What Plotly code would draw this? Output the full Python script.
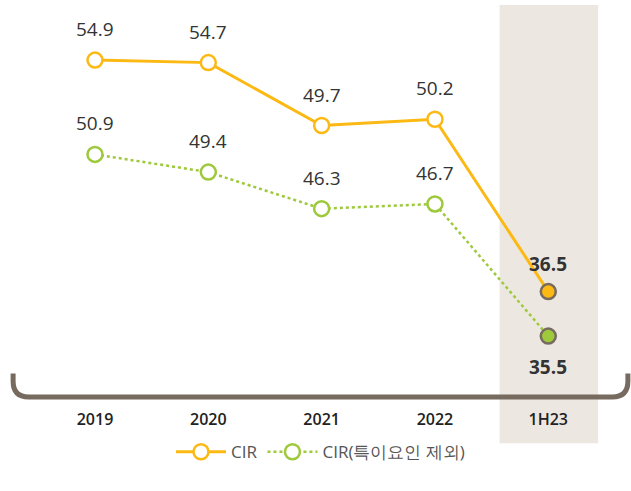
import plotly.graph_objects as go

# 데이터
periods = ["2019", "2020", "2021", "2022", "1H23"]
cir = [54.9, 54.7, 49.7, 50.2, 36.5]
cir_ex = [50.9, 49.4, 46.3, 46.7, 35.5]

ORANGE = "#FDB913"
GREEN = "#9DC93B"
BROWN = "#776B60"
TEXT = "#333333"
FONT = "Open Sans"

fig = go.Figure()

# 1H23 음영
fig.add_shape(type="rect", xref="x", yref="paper", x0=3.57, x1=4.44, y0=-0.118, y1=1,
              fillcolor="#ECE8E1", line_width=0, layer="below")

# 하단 브래킷
fig.add_shape(type="path", xref="paper", yref="paper",
              path="M 0.005,0.06 L 0.005,0.04 Q 0.005,0 0.03,0 L 0.97,0 Q 0.995,0 0.995,0.04 L 0.995,0.06",
              line=dict(color=BROWN, width=5))

def marker(color):
    fills = ["white"] * (len(periods) - 1) + [color]
    lines = [color] * (len(periods) - 1) + [BROWN]
    return dict(size=15, color=fills, line=dict(color=lines, width=2.5))

fig.add_trace(go.Scatter(x=periods, y=cir, name="CIR", mode="lines+markers",
                         line=dict(color=ORANGE, width=3), marker=marker(ORANGE)))
fig.add_trace(go.Scatter(x=periods, y=cir_ex, name="CIR(특이요인 제외)", mode="lines+markers",
                         yaxis="y2",
                         line=dict(color=GREEN, width=2.5, dash="dot"), marker=marker(GREEN)))

# 값 라벨
for i, p in enumerate(periods):
    last = i == len(periods) - 1
    fw = 700 if last else 400
    fig.add_annotation(x=i, y=cir[i], text=f"{cir[i]:.1f}", showarrow=False,
                       yshift=28 if last else 31,
                       font=dict(size=19, color=TEXT, family=FONT, weight=fw))
    fig.add_annotation(x=i, y=cir_ex[i], yref="y2", text=f"{cir_ex[i]:.1f}", showarrow=False,
                       yshift=-31 if last else 31,
                       font=dict(size=19, color=TEXT, family=FONT, weight=fw))

fig.update_layout(
    width=631, height=491,
    margin=dict(l=10, r=0, t=5, b=94, autoexpand=False),
    plot_bgcolor="white", paper_bgcolor="white",
    font=dict(family=FONT, color=TEXT),
    showlegend=True,
    legend=dict(orientation="h", x=0.5, xanchor="center", y=-0.095, yanchor="top",
                font=dict(size=17, color="#555555", family=FONT), itemwidth=50),
    xaxis=dict(type="category", range=[-0.75, 4.73], showgrid=False, zeroline=False, showline=False,
               ticks="outside", ticklen=8, tickcolor="rgba(0,0,0,0)",
               tickfont=dict(size=16, color="#222222", family=FONT, weight=600)),
    yaxis=dict(range=[28.12, 59.28], visible=False),
    yaxis2=dict(range=[30.34, 63.56], visible=False, overlaying="y"),
)

fig.write_html("out.html", config={"displayModeBar": False},
               post_script="document.body.style.margin='0';")
